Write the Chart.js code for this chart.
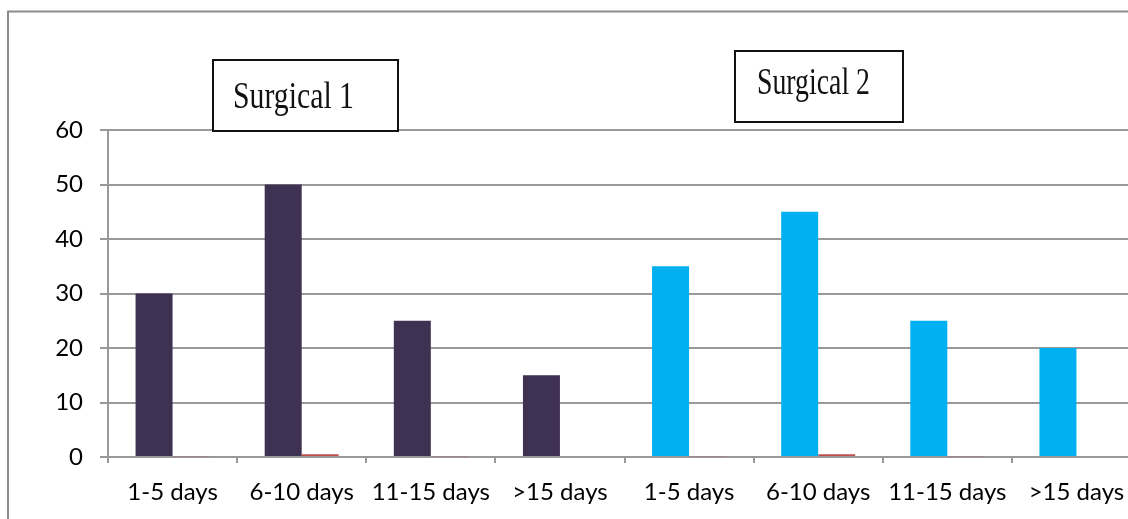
<!DOCTYPE html>
<html>
<head>
<meta charset="utf-8">
<script src="https://cdn.jsdelivr.net/npm/chart.js@4/dist/chart.umd.min.js"></script>
<style>
  html, body { margin: 0; padding: 0; background: #fff; overflow: hidden; }
  #wrap { width: 1145px; height: 519px; position: relative; }
</style>
</head>
<body>
<div id="wrap"><canvas id="c" width="1145" height="519"></canvas></div>
<script>
// Length of stay, grouped by surgical arm
const categories = ['1-5 days', '6-10 days', '11-15 days', '>15 days',
                    '1-5 days', '6-10 days', '11-15 days', '>15 days'];
const patients = [30, 50, 25, 15, 35, 45, 25, 20];
const secondary = [0.15, 0.5, 0.15, 0, 0.15, 0.5, 0.15, 0];
const yTicks = [0, 10, 20, 30, 40, 50, 60];
const groupTitles = ['Surgical 1', 'Surgical 2'];

const PURPLE = '#3f3151';
const CYAN = '#00b0f0';
const RED = '#c0504d';
const GRID = '#999999';

const barColors = patients.map((_, i) => (i < 4 ? PURPLE : CYAN));

// Frame lines and the two titled boxes above the groups
const decorations = {
  id: 'decorations',
  afterDraw(chart) {
    const ctx = chart.ctx;
    ctx.save();
    ctx.strokeStyle = '#8c8c8c';
    ctx.lineWidth = 2;
    ctx.beginPath();
    ctx.moveTo(8, 530);
    ctx.lineTo(8, 11.5);
    ctx.lineTo(1145, 11.5);
    ctx.stroke();

    const boxes = [
      { x: 213, y: 60, w: 185, h: 71, tx: 233, ty: 108 },
      { x: 735, y: 51, w: 168, h: 71, tx: 757, ty: 94 }
    ];
    boxes.forEach((b, i) => {
      ctx.fillStyle = '#fff';
      ctx.fillRect(b.x, b.y, b.w, b.h);
      ctx.strokeStyle = '#111';
      ctx.lineWidth = 2;
      ctx.strokeRect(b.x, b.y, b.w, b.h);
      ctx.save();
      ctx.font = '38px "Liberation Serif", serif';
      ctx.fillStyle = '#111';
      ctx.textBaseline = 'alphabetic';
      ctx.textAlign = 'left';
      const w = ctx.measureText(groupTitles[i]).width;
      const sx = (i === 0 ? 121 : 113) / w;
      ctx.translate(b.tx, b.ty);
      ctx.scale(sx, 1);
      ctx.fillText(groupTitles[i], 0, 0);
      ctx.restore();
    });
    ctx.restore();
  }
};

new Chart(document.getElementById('c'), {
  type: 'bar',
  data: {
    labels: categories,
    datasets: [
      {
        label: 'Patients',
        data: patients,
        backgroundColor: barColors,
        borderWidth: 0,
        categoryPercentage: 0.573,
        barPercentage: 1
      },
      {
        label: 'Other',
        data: secondary,
        backgroundColor: RED,
        borderWidth: 0,
        categoryPercentage: 0.573,
        barPercentage: 1
      }
    ]
  },
  options: {
    responsive: false,
    animation: false,
    devicePixelRatio: 1,
    layout: { padding: { top: 130, right: 4, left: 0, bottom: 0 } },
    plugins: {
      legend: { display: false },
      tooltip: { enabled: false },
      title: { display: false }
    },
    scales: {
      x: {
        offset: true,
        afterFit(scale) { scale.height = 519 - 457; },
        grid: {
          offset: true,
          drawOnChartArea: false,
          drawTicks: true,
          tickLength: 6,
          color: GRID,
          lineWidth: 2
        },
        border: { display: true, color: GRID, width: 2 },
        ticks: {
          color: '#000',
          padding: 15,
          maxRotation: 0,
          autoSkip: false,
          font: { family: 'Lato, "Liberation Sans", sans-serif', size: 24 }
        }
      },
      y: {
        min: 0,
        max: 60,
        afterFit(scale) { scale.width = 108; },
        afterBuildTicks(scale) { scale.ticks = yTicks.map(v => ({ value: v })); },
        grid: {
          drawOnChartArea: true,
          drawTicks: true,
          tickLength: 8,
          color: GRID,
          lineWidth: 2
        },
        border: { display: true, color: GRID, width: 2 },
        ticks: {
          color: '#000',
          padding: 17,
          font: { family: 'Lato, "Liberation Sans", sans-serif', size: 24 }
        }
      }
    }
  },
  plugins: [decorations]
});
</script>
</body>
</html>
